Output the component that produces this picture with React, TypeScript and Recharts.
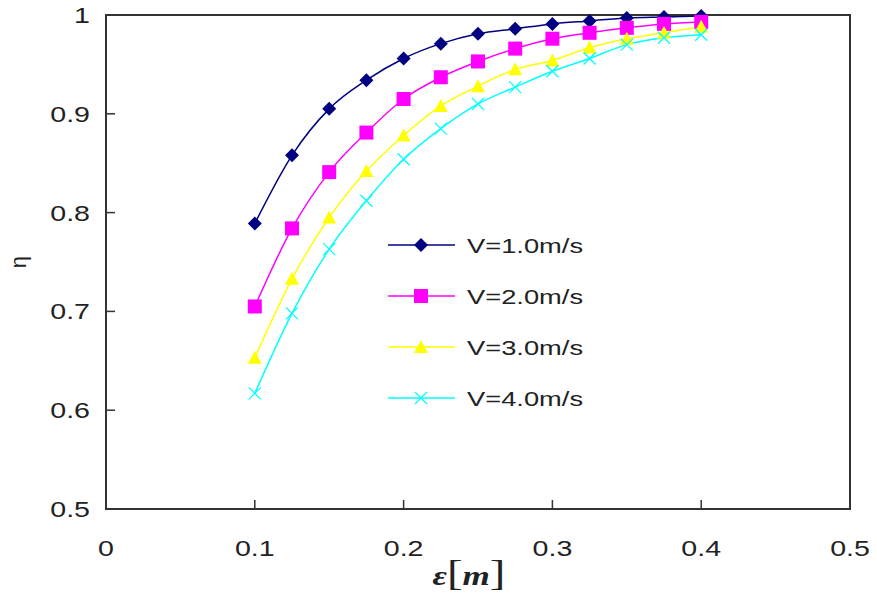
import React from 'react';
import { LineChart, Line, XAxis, YAxis, Legend, Label, ReferenceArea } from 'recharts';

// eps grid and efficiency curves for each flow velocity
const epsValues = [0.1, 0.125, 0.15, 0.175, 0.2, 0.225, 0.25, 0.275, 0.3, 0.325, 0.35, 0.375, 0.4];
const etaV1 = [0.789, 0.858, 0.905, 0.934, 0.956, 0.971, 0.981, 0.986, 0.991, 0.994, 0.997, 0.998, 0.999];
const etaV2 = [0.705, 0.784, 0.841, 0.881, 0.915, 0.937, 0.953, 0.966, 0.976, 0.982, 0.987, 0.991, 0.993];
const etaV3 = [0.653, 0.733, 0.795, 0.842, 0.878, 0.908, 0.928, 0.945, 0.954, 0.967, 0.976, 0.982, 0.988];
const etaV4 = [0.617, 0.698, 0.763, 0.812, 0.854, 0.885, 0.91, 0.927, 0.943, 0.956, 0.97, 0.977, 0.98];

const xTicks = [0, 0.1, 0.2, 0.3, 0.4, 0.5];
const yTicks = [0.5, 0.6, 0.7, 0.8, 0.9, 1];

const seriesNames = ['V=1.0m/s', 'V=2.0m/s', 'V=3.0m/s', 'V=4.0m/s'];

const data = epsValues.map((eps, i) => ({
  eps,
  v1: etaV1[i],
  v2: etaV2[i],
  v3: etaV3[i],
  v4: etaV4[i],
}));

const FONT = '"Liberation Sans", Arial, sans-serif';
const AXIS = '#333';
const TEXT = '#222';
const STRETCH = 1.3;

type Shape = 'diamond' | 'square' | 'triangle' | 'cross';

const SERIES: { key: string; name: string; color: string; shape: Shape }[] = [
  { key: 'v1', name: seriesNames[0], color: '#000080', shape: 'diamond' },
  { key: 'v2', name: seriesNames[1], color: '#ff00ff', shape: 'square' },
  { key: 'v3', name: seriesNames[2], color: '#ffff00', shape: 'triangle' },
  { key: 'v4', name: seriesNames[3], color: '#00ffff', shape: 'cross' },
];

function Marker({ cx, cy, shape, color }: { cx: number; cy: number; shape: Shape; color: string }) {
  if (shape === 'diamond') {
    const r = 7;
    return <polygon points={`${cx},${cy - r} ${cx + r},${cy} ${cx},${cy + r} ${cx - r},${cy}`} fill={color} />;
  }
  if (shape === 'square') {
    const h = 7;
    return <rect x={cx - h} y={cy - h} width={h * 2} height={h * 2} fill={color} />;
  }
  if (shape === 'triangle') {
    const h = 7;
    return <polygon points={`${cx},${cy - h} ${cx + h},${cy + h - 1} ${cx - h},${cy + h - 1}`} fill={color} />;
  }
  const r = 6;
  return (
    <g stroke={color} strokeWidth={1.3}>
      <line x1={cx - r} y1={cy - r} x2={cx + r} y2={cy + r} />
      <line x1={cx - r} y1={cy + r} x2={cx + r} y2={cy - r} />
    </g>
  );
}

const makeDot = (shape: Shape, color: string) => (props: any) => (
  <Marker key={`${shape}-${props.index}`} cx={props.cx} cy={props.cy} shape={shape} color={color} />
);

function StretchedText({ x, y, anchor, size, children }: any) {
  return (
    <text
      transform={`translate(${x},${y}) scale(${STRETCH},1)`}
      textAnchor={anchor}
      fontFamily={FONT}
      fontSize={size}
      fill={TEXT}
    >
      {children}
    </text>
  );
}

// inward tick marks plus wide labels
function XTick({ x, y, payload }: any) {
  const v = payload.value;
  const edge = v === 0 || v === 0.5;
  return (
    <g>
      {!edge && <line x1={x} y1={y} x2={x} y2={y - 9} stroke={AXIS} strokeWidth={1.5} />}
      <StretchedText x={x} y={y + 47} anchor="middle" size={22}>
        {String(v)}
      </StretchedText>
    </g>
  );
}

function YTick({ x, y, payload }: any) {
  const v = payload.value;
  const edge = v === 0.5 || v === 1;
  return (
    <g>
      {!edge && <line x1={x} y1={y} x2={x + 9} y2={y} stroke={AXIS} strokeWidth={1.5} />}
      <StretchedText x={x - 16} y={y + 8} anchor="end" size={22}>
        {String(v)}
      </StretchedText>
    </g>
  );
}

function LegendBox() {
  return (
    <svg width={220} height={200}>
      {SERIES.map((s, i) => {
        const cy = 17 + i * 51;
        return (
          <g key={s.key}>
            <line x1={8} y1={cy} x2={75} y2={cy} stroke={s.color} strokeWidth={1.6} />
            <Marker cx={41} cy={cy} shape={s.shape} color={s.color} />
            <StretchedText x={87} y={cy + 8} anchor="start" size={21}>
              {s.name}
            </StretchedText>
          </g>
        );
      })}
    </svg>
  );
}

function XTitle({ viewBox }: any) {
  const cx = viewBox.x + viewBox.width / 2 - 9;
  return (
    <text
      transform={`translate(${cx},585) scale(${STRETCH},1)`}
      textAnchor="middle"
      fontFamily='"Liberation Serif", "Times New Roman", serif'
      fontWeight="bold"
      fontStyle="italic"
      fill={TEXT}
    >
      <tspan fontSize={27}>ε</tspan>
      <tspan fontSize={36} fontStyle="normal" fontWeight="normal">[</tspan>
      <tspan fontSize={27}>m</tspan>
      <tspan fontSize={36} fontStyle="normal" fontWeight="normal">]</tspan>
    </text>
  );
}

function YTitle({ viewBox }: any) {
  const cx = viewBox.x + 26;
  const cy = viewBox.y + viewBox.height / 2;
  return (
    <text
      transform={`translate(${cx},${cy}) rotate(-90)`}
      textAnchor="middle"
      fontFamily={FONT}
      fontSize={22}
      fill={TEXT}
    >
      η
    </text>
  );
}

export default function App() {
  return (
    <div style={{ position: 'absolute', left: 0, top: 0, width: 877, height: 594, background: '#fff' }}>
      <LineChart width={877} height={594} data={data} margin={{ top: 15, right: 27, bottom: 0, left: 0 }}>
        <XAxis
          dataKey="eps"
          type="number"
          domain={[0, 0.5]}
          ticks={xTicks}
          height={85}
          tickSize={0}
          tickMargin={0}
          tickLine={false}
          tick={<XTick />}
          axisLine={{ stroke: AXIS, strokeWidth: 2 }}
        >
          <Label content={<XTitle />} />
        </XAxis>
        <YAxis
          type="number"
          domain={[0.5, 1]}
          ticks={yTicks}
          width={106}
          tickSize={0}
          tickMargin={0}
          tickLine={false}
          tick={<YTick />}
          axisLine={{ stroke: AXIS, strokeWidth: 2 }}
        >
          <Label content={<YTitle />} />
        </YAxis>
        {/* frame around the plot area */}
        <ReferenceArea
          x1={0}
          x2={0.5}
          y1={0.5}
          y2={1}
          fill="none"
          fillOpacity={0}
          stroke={AXIS}
          strokeWidth={2}
          ifOverflow="visible"
        />
        <Legend
          layout="horizontal"
          verticalAlign="middle"
          align="center"
          content={<LegendBox />}
          wrapperStyle={{ left: 380, top: 228, width: 220, height: 200 }}
        />
        {SERIES.map((s) => (
          <Line
            key={s.key}
            type="monotone"
            dataKey={s.key}
            name={s.name}
            stroke={s.color}
            strokeWidth={1.5}
            dot={makeDot(s.shape, s.color)}
            activeDot={false}
            isAnimationActive={false}
          />
        ))}
      </LineChart>
    </div>
  );
}
